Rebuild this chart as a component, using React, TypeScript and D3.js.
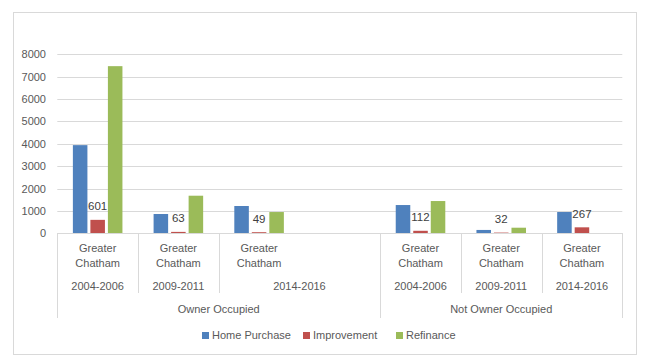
import React from "react";
import * as d3 from "d3";

const categoryNames = ["Greater Chatham", "Greater Chatham", "Greater Chatham", "", "Greater Chatham", "Greater Chatham", "Greater Chatham"];
const periodLabels = ["2004-2006", "2009-2011", "2014-2016", "2014-2016", "2004-2006", "2009-2011", "2014-2016"];
const groupLabels = ["Owner Occupied", "Owner Occupied", "Owner Occupied", "Owner Occupied", "Not Owner Occupied", "Not Owner Occupied", "Not Owner Occupied"];

const seriesNames = ["Home Purchase", "Improvement", "Refinance"];
const homePurchase = [3940, 862, 1220, 0, 1263, 150, 951];
const improvement = [601, 63, 49, 0, 112, 32, 267];
const refinance = [7470, 1680, 950, 0, 1442, 250, 0];
const yTicks = [0, 1000, 2000, 3000, 4000, 5000, 6000, 7000, 8000];
const labeledSeries = "Improvement";

const colors = ["#4F81BD", "#C0504D", "#9BBB59"];
const W = 653, H = 358;
const plotLeft = 57.3, plotRight = 622.3, plotTop = 54.3, plotBottom = 233.3;
const FONT = "'Liberation Sans', Arial, sans-serif";

type Span = { label: string; start: number; end: number };
function spans(labels: string[], parents?: string[]): Span[] {
  const out: Span[] = [];
  labels.forEach((l, i) => {
    const last = out[out.length - 1];
    if (last && last.label === l && (!parents || parents[i] === parents[i - 1])) last.end = i;
    else out.push({ label: l, start: i, end: i });
  });
  return out;
}

export default function App() {
  const series = [homePurchase, improvement, refinance];
  const idx = categoryNames.map((_, i) => i);
  const x = d3.scaleBand<number>().domain(idx).range([plotLeft, plotRight]).padding(0);
  const step = x.step();
  const inner = d3.scaleBand<string>().domain(seriesNames).range([step * 0.193, step * 0.807]).paddingInner(0.17);
  const y = d3.scaleLinear().domain([0, 8000]).range([plotBottom, plotTop]);

  const periodSpans = spans(periodLabels, groupLabels);
  const groupSpans = spans(groupLabels);
  const edge = (i: number) => (x(i) as number);
  const right = (i: number) => (x(i) as number) + step;

  // boundaries for vertical separators
  const lines: { x: number; y2: number }[] = [];
  groupSpans.forEach((g) => {
    lines.push({ x: edge(g.start), y2: 318 });
  });
  lines.push({ x: right(groupSpans[groupSpans.length - 1].end), y2: 318 });
  periodSpans.forEach((p) => {
    const isGroupStart = groupSpans.some((g) => g.start === p.start);
    if (!isGroupStart) lines.push({ x: edge(p.start), y2: 293 });
  });

  const legendX = [202, 303, 396];

  return (
    <svg width={W} height={H} style={{ position: "absolute", left: 0, top: 0 }} fontFamily={FONT}>
      <rect x={0} y={0} width={W} height={H} fill="#fff" />
      <rect x={13.5} y={12.5} width={623} height={342} fill="#fff" stroke="#d9d9d9" strokeWidth={1} />
      {yTicks.map((t) => (
        <g key={t}>
          {t !== 0 && <line x1={plotLeft} x2={plotRight} y1={Math.round(y(t)) + 0.5} y2={Math.round(y(t)) + 0.5} stroke="#d9d9d9" />}
          <text x={46} y={y(t) + 4} textAnchor="end" fontSize={11} fill="#595959">{t}</text>
        </g>
      ))}
      {series.map((vals, s) =>
        vals.map((v, i) =>
          v > 0 ? (
            <rect key={`${s}-${i}`} x={(x(i) as number) + (inner(seriesNames[s]) as number)} y={y(v)} width={inner.bandwidth()} height={y(0) - y(v)} fill={colors[s]} />
          ) : null
        )
      )}
      {series.map((vals, s) =>
        seriesNames[s] === labeledSeries
          ? vals.map((v, i) =>
              v > 0 ? (
                <text key={`l${s}-${i}`} x={(x(i) as number) + (inner(seriesNames[s]) as number) + inner.bandwidth() / 2} y={y(v) - 9.5} textAnchor="middle" fontSize={11.5} fill="#404040">{v}</text>
              ) : null
            )
          : null
      )}
      <line x1={plotLeft} x2={plotRight} y1={233.5} y2={233.5} stroke="#d9d9d9" />
      {lines.map((l, i) => (
        <line key={i} x1={Math.round(l.x) + 0.5} x2={Math.round(l.x) + 0.5} y1={233} y2={l.y2} stroke="#d9d9d9" />
      ))}
      {categoryNames.map((n, i) =>
        n ? (
          <text key={`c${i}`} x={(x(i) as number) + step / 2} textAnchor="middle" fontSize={11} fill="#595959">
            {n.split(" ").map((w, k) => (
              <tspan key={k} x={(x(i) as number) + step / 2} y={252 + k * 15}>{w}</tspan>
            ))}
          </text>
        ) : null
      )}
      {periodSpans.map((p, i) => (
        <text key={`p${i}`} x={(edge(p.start) + right(p.end)) / 2} y={290} textAnchor="middle" fontSize={11} fill="#595959">{p.label}</text>
      ))}
      {groupSpans.map((g, i) => (
        <text key={`g${i}`} x={(edge(g.start) + right(g.end)) / 2} y={313} textAnchor="middle" fontSize={11} fill="#595959">{g.label}</text>
      ))}
      {seriesNames.map((n, s) => (
        <g key={n}>
          <rect x={legendX[s]} y={332} width={7} height={7} fill={colors[s]} />
          <text x={legendX[s] + 10} y={339} fontSize={11} fill="#595959">{n}</text>
        </g>
      ))}
    </svg>
  );
}
